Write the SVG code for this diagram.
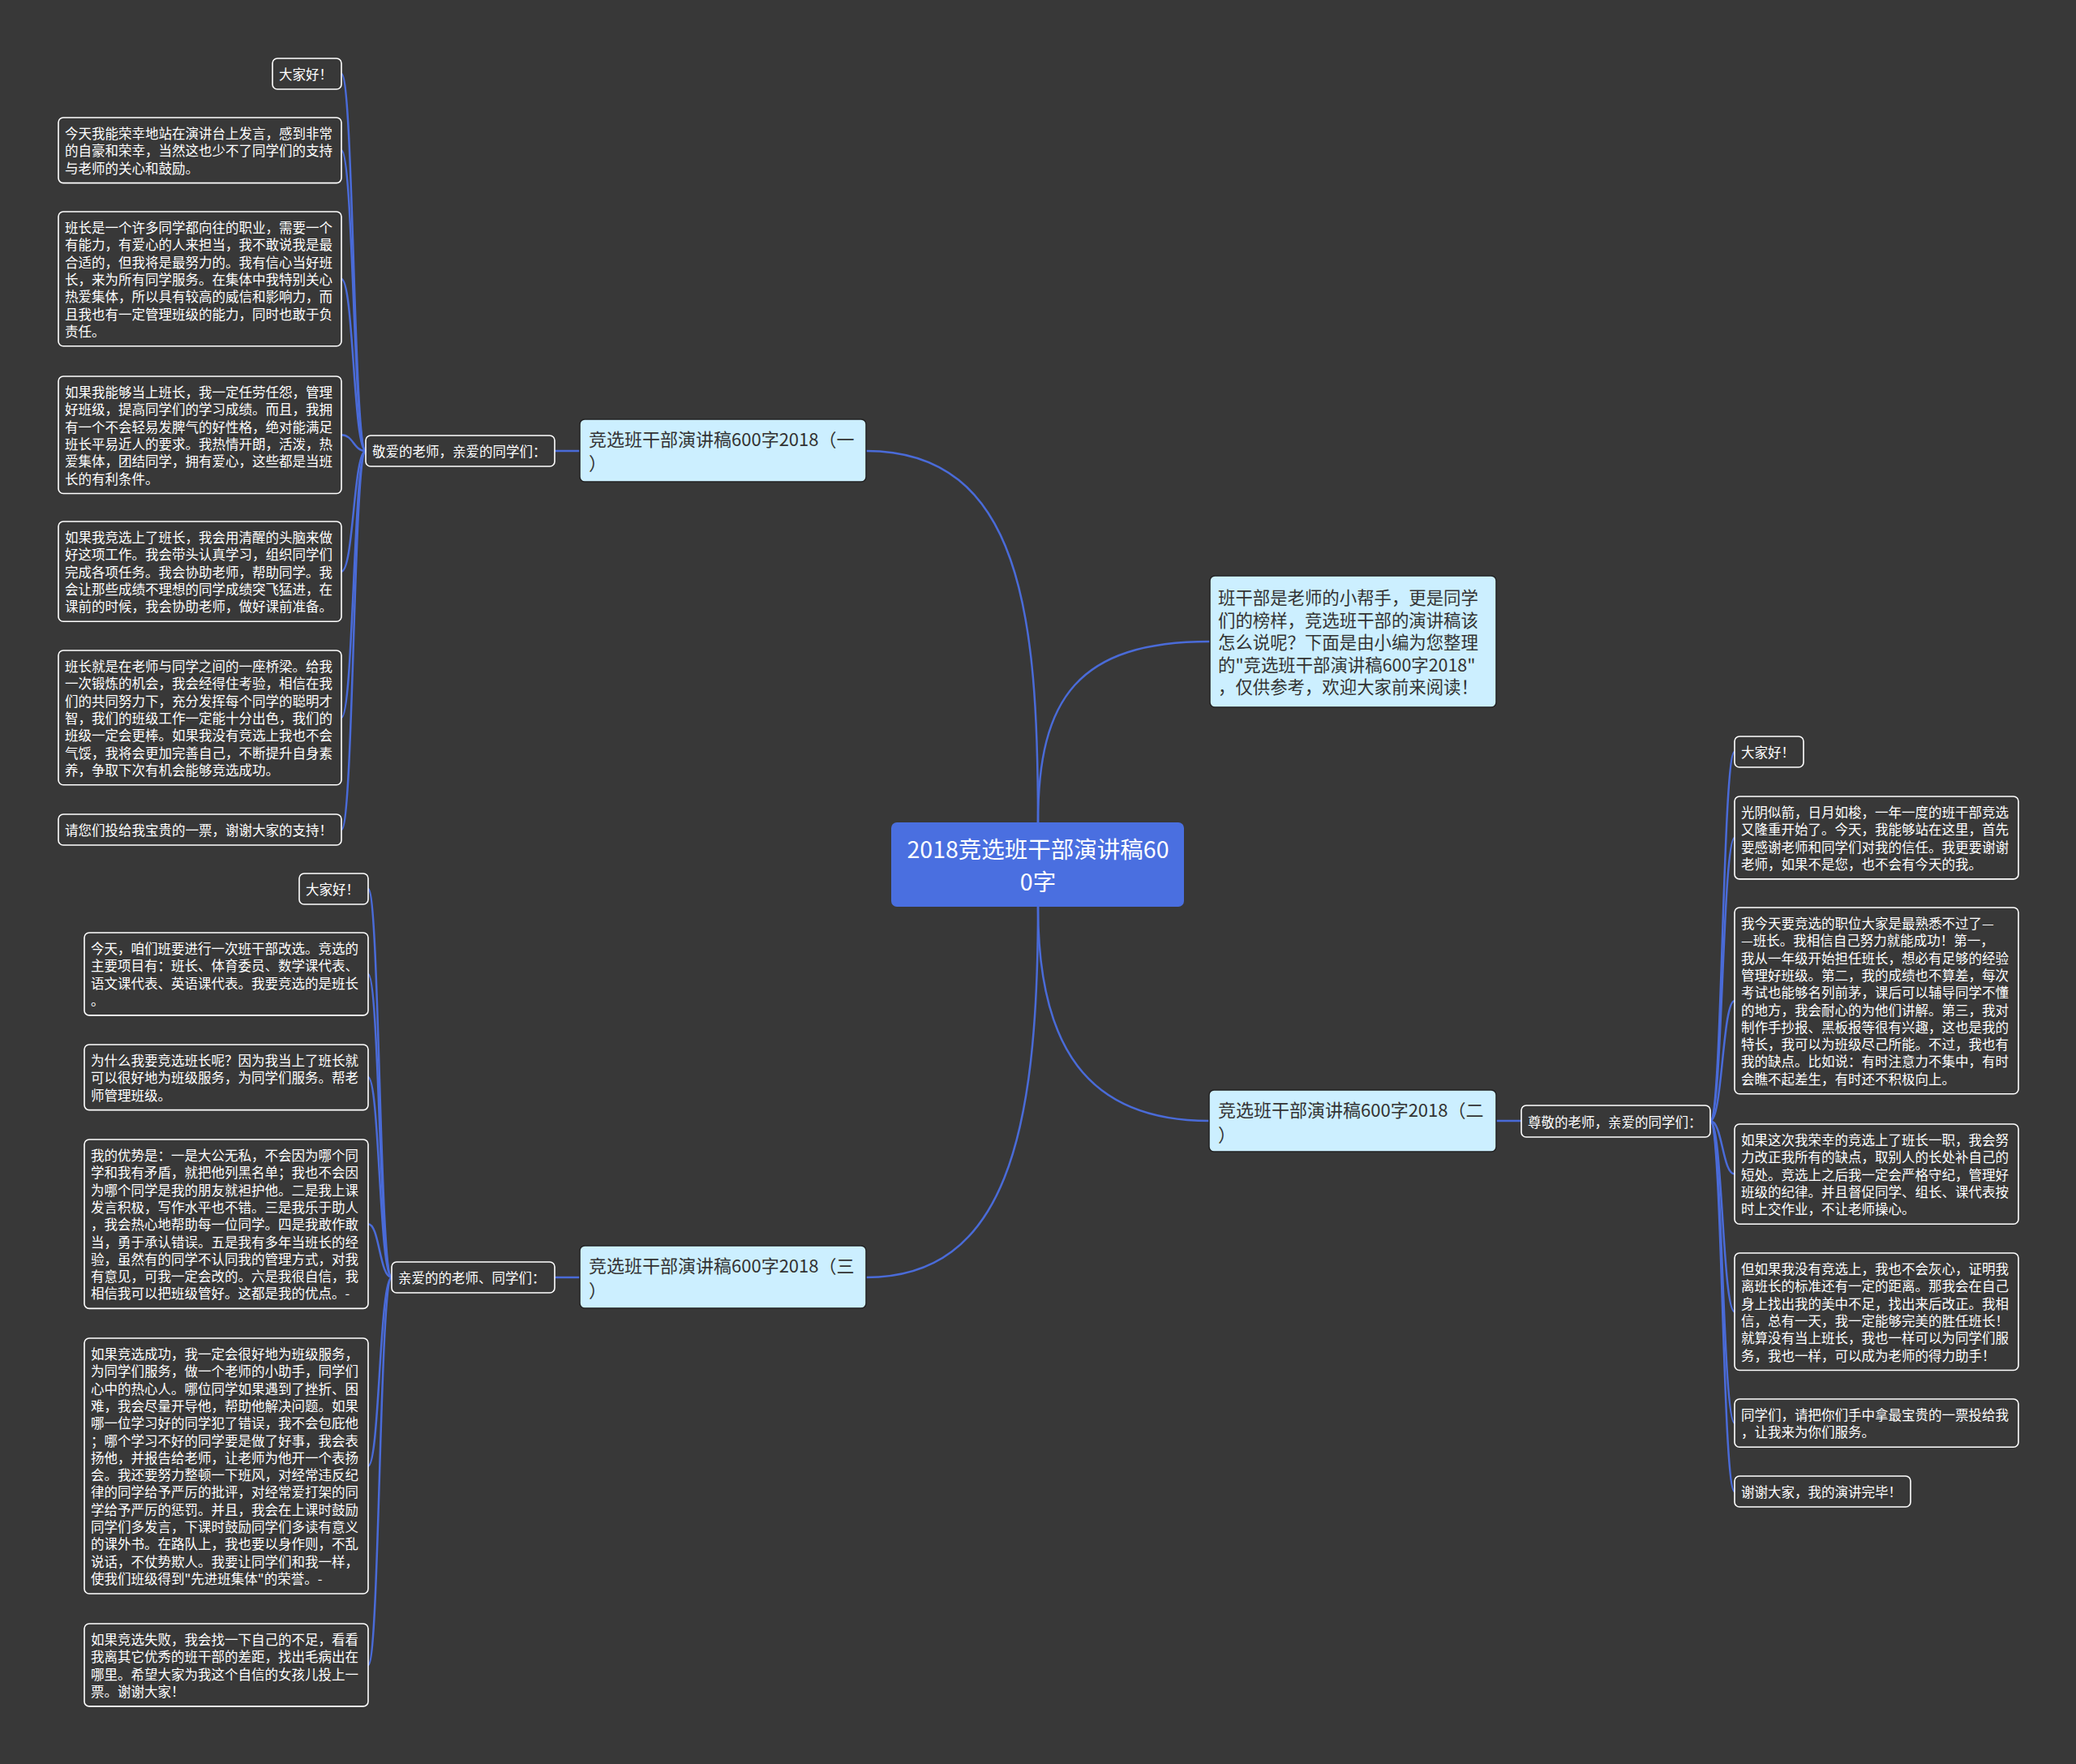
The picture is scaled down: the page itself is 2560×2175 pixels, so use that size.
<svg xmlns="http://www.w3.org/2000/svg" width="2560" height="2175" viewBox="0 0 2560 2175">
<style>
text{font-family:"Noto Sans CJK SC","Microsoft YaHei",sans-serif;dominant-baseline:central}
.leaf rect{fill:#383838;stroke:#ffffff;stroke-width:1.6}
.leaf text{fill:#ffffff;font-size:16.5px}
.topic rect{fill:#ccefff;stroke:#222222;stroke-width:1.5}
.topic text{fill:#333333;font-size:22px}
.intro text{font-size:21.4px}
.root rect{fill:#4a6fe0}
.root text{fill:#ffffff;font-size:28.5px;text-anchor:middle}
.edge{fill:none;stroke:#4a6bd8;stroke-width:2.5}
</style>
<rect x="0" y="0" width="2560" height="2175" fill="#383838"/>

<g id="connectors">
<path class="edge" d="M1280 1014 C1280 760 1260 556 1068 556"/>
<path class="edge" d="M1280 1014 C1280 860 1330 791 1492 791"/>
<path class="edge" d="M1280 1118 C1280 1290 1340 1382 1491 1382"/>
<path class="edge" d="M1280 1118 C1280 1400 1240 1575 1068 1575"/>
<path class="edge" d="M715 556 L684 556"/>
<path class="edge" d="M1845 1382 L1876 1382"/>
<path class="edge" d="M715 1575 L684 1575"/>
<path class="edge" d="M451 556 C436 556 436 91 421 91"/>
<path class="edge" d="M451 556 C436 556 436 185.3 421 185.3"/>
<path class="edge" d="M451 556 C436 556 436 343.9 421 343.9"/>
<path class="edge" d="M451 556 C436 556 436 536.3 421 536.3"/>
<path class="edge" d="M451 556 C436 556 436 704.6 421 704.6"/>
<path class="edge" d="M451 556 C436 556 436 884.9 421 884.9"/>
<path class="edge" d="M451 556 C436 556 436 1023 421 1023"/>
<path class="edge" d="M2109 1382 C2124 1382 2124 927 2139 927"/>
<path class="edge" d="M2109 1382 C2124 1382 2124 1033 2139 1033"/>
<path class="edge" d="M2109 1382 C2124 1382 2124 1233.9 2139 1233.9"/>
<path class="edge" d="M2109 1382 C2124 1382 2124 1447.6 2139 1447.6"/>
<path class="edge" d="M2109 1382 C2124 1382 2124 1617.3 2139 1617.3"/>
<path class="edge" d="M2109 1382 C2124 1382 2124 1754.7 2139 1754.7"/>
<path class="edge" d="M2109 1382 C2124 1382 2124 1839 2139 1839"/>
<path class="edge" d="M483 1575 C468 1575 468 1096 454 1096"/>
<path class="edge" d="M483 1575 C468 1575 468 1201 454 1201"/>
<path class="edge" d="M483 1575 C468 1575 468 1328.3 454 1328.3"/>
<path class="edge" d="M483 1575 C468 1575 468 1509.2 454 1509.2"/>
<path class="edge" d="M483 1575 C468 1575 468 1807.5 454 1807.5"/>
<path class="edge" d="M483 1575 C468 1575 468 2053 454 2053"/>
</g>

<g id="root" class="root">
<rect x="1099" y="1014" width="361" height="104" rx="7"/>
<text><tspan x="1280" y="1045">2018竞选班干部演讲稿60</tspan><tspan x="1280" y="1085">0字</tspan></text>
</g>

<g id="intro" class="topic intro">
<rect x="1492" y="710" width="353" height="162" rx="6"/>
<text><tspan x="1502" y="735">班干部是老师的小帮手，更是同学</tspan><tspan x="1502" y="762.5">们的榜样，竞选班干部的演讲稿该</tspan><tspan x="1502" y="790">怎么说呢？下面是由小编为您整理</tspan><tspan x="1502" y="817.5">的"竞选班干部演讲稿600字2018"</tspan><tspan x="1502" y="845">，仅供参考，欢迎大家前来阅读！</tspan></text>
</g>

<g id="topic1" class="topic">
<rect x="715" y="517" width="353" height="77" rx="6"/>
<text><tspan x="726" y="540">竞选班干部演讲稿600字2018（一</tspan><tspan x="726" y="569">）</tspan></text>
</g>
<g id="topic2" class="topic">
<rect x="1491" y="1344" width="354" height="76" rx="6"/>
<text><tspan x="1502" y="1367">竞选班干部演讲稿600字2018（二</tspan><tspan x="1502" y="1397">）</tspan></text>
</g>
<g id="topic3" class="topic">
<rect x="715" y="1536" width="353" height="77" rx="6"/>
<text><tspan x="726" y="1559">竞选班干部演讲稿600字2018（三</tspan><tspan x="726" y="1589">）</tspan></text>
</g>

<g id="sub1" class="leaf">
<rect x="451" y="537" width="233" height="38" rx="6"/>
<text x="459" y="556">敬爱的老师，亲爱的同学们：</text>
</g>
<g id="sub2" class="leaf">
<rect x="1876" y="1363" width="233" height="39" rx="6"/>
<text x="1884" y="1382.5">尊敬的老师，亲爱的同学们：</text>
</g>
<g id="sub3" class="leaf">
<rect x="483" y="1556" width="201" height="38" rx="6"/>
<text x="491" y="1575">亲爱的的老师、同学们：</text>
</g>

<g id="l1" class="leaf"><rect x="336" y="72" width="85" height="38" rx="6"/><text x="344" y="91">大家好！</text></g>
<g id="l2" class="leaf"><rect x="72" y="145" width="349" height="80.6" rx="6"/><text><tspan x="80" y="164">今天我能荣幸地站在演讲台上发言，感到非常</tspan><tspan x="80" y="185.3">的自豪和荣幸，当然这也少不了同学们的支持</tspan><tspan x="80" y="206.6">与老师的关心和鼓励。</tspan></text></g>
<g id="l3" class="leaf"><rect x="72" y="261" width="349" height="165.8" rx="6"/><text><tspan x="80" y="280">班长是一个许多同学都向往的职业，需要一个</tspan><tspan x="80" y="301.3">有能力，有爱心的人来担当，我不敢说我是最</tspan><tspan x="80" y="322.6">合适的，但我将是最努力的。我有信心当好班</tspan><tspan x="80" y="343.9">长，来为所有同学服务。在集体中我特别关心</tspan><tspan x="80" y="365.2">热爱集体，所以具有较高的威信和影响力，而</tspan><tspan x="80" y="386.5">且我也有一定管理班级的能力，同时也敢于负</tspan><tspan x="80" y="407.8">责任。</tspan></text></g>
<g id="l4" class="leaf"><rect x="72" y="464" width="349" height="144.5" rx="6"/><text><tspan x="80" y="483">如果我能够当上班长，我一定任劳任怨，管理</tspan><tspan x="80" y="504.3">好班级，提高同学们的学习成绩。而且，我拥</tspan><tspan x="80" y="525.6">有一个不会轻易发脾气的好性格，绝对能满足</tspan><tspan x="80" y="546.9">班长平易近人的要求。我热情开朗，活泼，热</tspan><tspan x="80" y="568.2">爱集体，团结同学，拥有爱心，这些都是当班</tspan><tspan x="80" y="589.5">长的有利条件。</tspan></text></g>
<g id="l5" class="leaf"><rect x="72" y="643" width="349" height="123.2" rx="6"/><text><tspan x="80" y="662">如果我竞选上了班长，我会用清醒的头脑来做</tspan><tspan x="80" y="683.3">好这项工作。我会带头认真学习，组织同学们</tspan><tspan x="80" y="704.6">完成各项任务。我会协助老师，帮助同学。我</tspan><tspan x="80" y="725.9">会让那些成绩不理想的同学成绩突飞猛进，在</tspan><tspan x="80" y="747.2">课前的时候，我会协助老师，做好课前准备。</tspan></text></g>
<g id="l6" class="leaf"><rect x="72" y="802" width="349" height="165.8" rx="6"/><text><tspan x="80" y="821">班长就是在老师与同学之间的一座桥梁。给我</tspan><tspan x="80" y="842.3">一次锻炼的机会，我会经得住考验，相信在我</tspan><tspan x="80" y="863.6">们的共同努力下，充分发挥每个同学的聪明才</tspan><tspan x="80" y="884.9">智，我们的班级工作一定能十分出色，我们的</tspan><tspan x="80" y="906.2">班级一定会更棒。如果我没有竞选上我也不会</tspan><tspan x="80" y="927.5">气馁，我将会更加完善自己，不断提升自身素</tspan><tspan x="80" y="948.8">养，争取下次有机会能够竞选成功。</tspan></text></g>
<g id="l7" class="leaf"><rect x="72" y="1004" width="349" height="38" rx="6"/><text x="80" y="1023">请您们投给我宝贵的一票，谢谢大家的支持！</text></g>

<g id="r1" class="leaf"><rect x="2139" y="908" width="85" height="38" rx="6"/><text x="2147" y="927">大家好！</text></g>
<g id="r2" class="leaf"><rect x="2139" y="982" width="350" height="101.9" rx="6"/><text><tspan x="2147" y="1001">光阴似箭，日月如梭，一年一度的班干部竞选</tspan><tspan x="2147" y="1022.3">又隆重开始了。今天，我能够站在这里，首先</tspan><tspan x="2147" y="1043.6">要感谢老师和同学们对我的信任。我更要谢谢</tspan><tspan x="2147" y="1064.9">老师，如果不是您，也不会有今天的我。</tspan></text></g>
<g id="r3" class="leaf"><rect x="2139" y="1119" width="350" height="229.7" rx="6"/><text><tspan x="2147" y="1138">我今天要竞选的职位大家是最熟悉不过了—</tspan><tspan x="2147" y="1159.3">—班长。我相信自己努力就能成功！第一，</tspan><tspan x="2147" y="1180.6">我从一年级开始担任班长，想必有足够的经验</tspan><tspan x="2147" y="1201.9">管理好班级。第二，我的成绩也不算差，每次</tspan><tspan x="2147" y="1223.2">考试也能够名列前茅，课后可以辅导同学不懂</tspan><tspan x="2147" y="1244.5">的地方，我会耐心的为他们讲解。第三，我对</tspan><tspan x="2147" y="1265.8">制作手抄报、黑板报等很有兴趣，这也是我的</tspan><tspan x="2147" y="1287.1">特长，我可以为班级尽己所能。不过，我也有</tspan><tspan x="2147" y="1308.4">我的缺点。比如说：有时注意力不集中，有时</tspan><tspan x="2147" y="1329.7">会瞧不起差生，有时还不积极向上。</tspan></text></g>
<g id="r4" class="leaf"><rect x="2139" y="1386" width="350" height="123.2" rx="6"/><text><tspan x="2147" y="1405">如果这次我荣幸的竞选上了班长一职，我会努</tspan><tspan x="2147" y="1426.3">力改正我所有的缺点，取别人的长处补自己的</tspan><tspan x="2147" y="1447.6">短处。竞选上之后我一定会严格守纪，管理好</tspan><tspan x="2147" y="1468.9">班级的纪律。并且督促同学、组长、课代表按</tspan><tspan x="2147" y="1490.2">时上交作业，不让老师操心。</tspan></text></g>
<g id="r5" class="leaf"><rect x="2139" y="1545" width="350" height="144.5" rx="6"/><text><tspan x="2147" y="1564">但如果我没有竞选上，我也不会灰心，证明我</tspan><tspan x="2147" y="1585.3">离班长的标准还有一定的距离。那我会在自己</tspan><tspan x="2147" y="1606.6">身上找出我的美中不足，找出来后改正。我相</tspan><tspan x="2147" y="1627.9">信，总有一天，我一定能够完美的胜任班长！</tspan><tspan x="2147" y="1649.2">就算没有当上班长，我也一样可以为同学们服</tspan><tspan x="2147" y="1670.5">务，我也一样，可以成为老师的得力助手！</tspan></text></g>
<g id="r6" class="leaf"><rect x="2139" y="1725" width="350" height="59.3" rx="6"/><text><tspan x="2147" y="1744">同学们，请把你们手中拿最宝贵的一票投给我</tspan><tspan x="2147" y="1765.3">，让我来为你们服务。</tspan></text></g>
<g id="r7" class="leaf"><rect x="2139" y="1820" width="217" height="38" rx="6"/><text x="2147" y="1839">谢谢大家，我的演讲完毕！</text></g>

<g id="b1" class="leaf"><rect x="369" y="1077" width="85" height="38" rx="6"/><text x="377" y="1096">大家好！</text></g>
<g id="b2" class="leaf"><rect x="104" y="1150" width="350" height="101.9" rx="6"/><text><tspan x="112" y="1169">今天，咱们班要进行一次班干部改选。竞选的</tspan><tspan x="112" y="1190.3">主要项目有：班长、体育委员、数学课代表、</tspan><tspan x="112" y="1211.6">语文课代表、英语课代表。我要竞选的是班长</tspan><tspan x="112" y="1232.9">。</tspan></text></g>
<g id="b3" class="leaf"><rect x="104" y="1288" width="350" height="80.6" rx="6"/><text><tspan x="112" y="1307">为什么我要竞选班长呢？因为我当上了班长就</tspan><tspan x="112" y="1328.3">可以很好地为班级服务，为同学们服务。帮老</tspan><tspan x="112" y="1349.6">师管理班级。</tspan></text></g>
<g id="b4" class="leaf"><rect x="104" y="1405" width="350" height="208.4" rx="6"/><text><tspan x="112" y="1424">我的优势是：一是大公无私，不会因为哪个同</tspan><tspan x="112" y="1445.3">学和我有矛盾，就把他列黑名单；我也不会因</tspan><tspan x="112" y="1466.6">为哪个同学是我的朋友就袒护他。二是我上课</tspan><tspan x="112" y="1487.9">发言积极，写作水平也不错。三是我乐于助人</tspan><tspan x="112" y="1509.2">，我会热心地帮助每一位同学。四是我敢作敢</tspan><tspan x="112" y="1530.5">当，勇于承认错误。五是我有多年当班长的经</tspan><tspan x="112" y="1551.8">验，虽然有的同学不认同我的管理方式，对我</tspan><tspan x="112" y="1573.1">有意见，可我一定会改的。六是我很自信，我</tspan><tspan x="112" y="1594.4">相信我可以把班级管好。这都是我的优点。-</tspan></text></g>
<g id="b5" class="leaf"><rect x="104" y="1650" width="350" height="315" rx="6"/><text><tspan x="112" y="1669">如果竞选成功，我一定会很好地为班级服务，</tspan><tspan x="112" y="1690.3">为同学们服务，做一个老师的小助手，同学们</tspan><tspan x="112" y="1711.6">心中的热心人。哪位同学如果遇到了挫折、困</tspan><tspan x="112" y="1732.9">难，我会尽量开导他，帮助他解决问题。如果</tspan><tspan x="112" y="1754.2">哪一位学习好的同学犯了错误，我不会包庇他</tspan><tspan x="112" y="1775.5">；哪个学习不好的同学要是做了好事，我会表</tspan><tspan x="112" y="1796.8">扬他，并报告给老师，让老师为他开一个表扬</tspan><tspan x="112" y="1818.1">会。我还要努力整顿一下班风，对经常违反纪</tspan><tspan x="112" y="1839.4">律的同学给予严厉的批评，对经常爱打架的同</tspan><tspan x="112" y="1860.7">学给予严厉的惩罚。并且，我会在上课时鼓励</tspan><tspan x="112" y="1882">同学们多发言，下课时鼓励同学们多读有意义</tspan><tspan x="112" y="1903.3">的课外书。在路队上，我也要以身作则，不乱</tspan><tspan x="112" y="1924.6">说话，不仗势欺人。我要让同学们和我一样，</tspan><tspan x="112" y="1945.9">使我们班级得到"先进班集体"的荣誉。-</tspan></text></g>
<g id="b6" class="leaf"><rect x="104" y="2002" width="350" height="101.9" rx="6"/><text><tspan x="112" y="2021">如果竞选失败，我会找一下自己的不足，看看</tspan><tspan x="112" y="2042.3">我离其它优秀的班干部的差距，找出毛病出在</tspan><tspan x="112" y="2063.6">哪里。希望大家为我这个自信的女孩儿投上一</tspan><tspan x="112" y="2084.9">票。谢谢大家！</tspan></text></g>
</svg>
